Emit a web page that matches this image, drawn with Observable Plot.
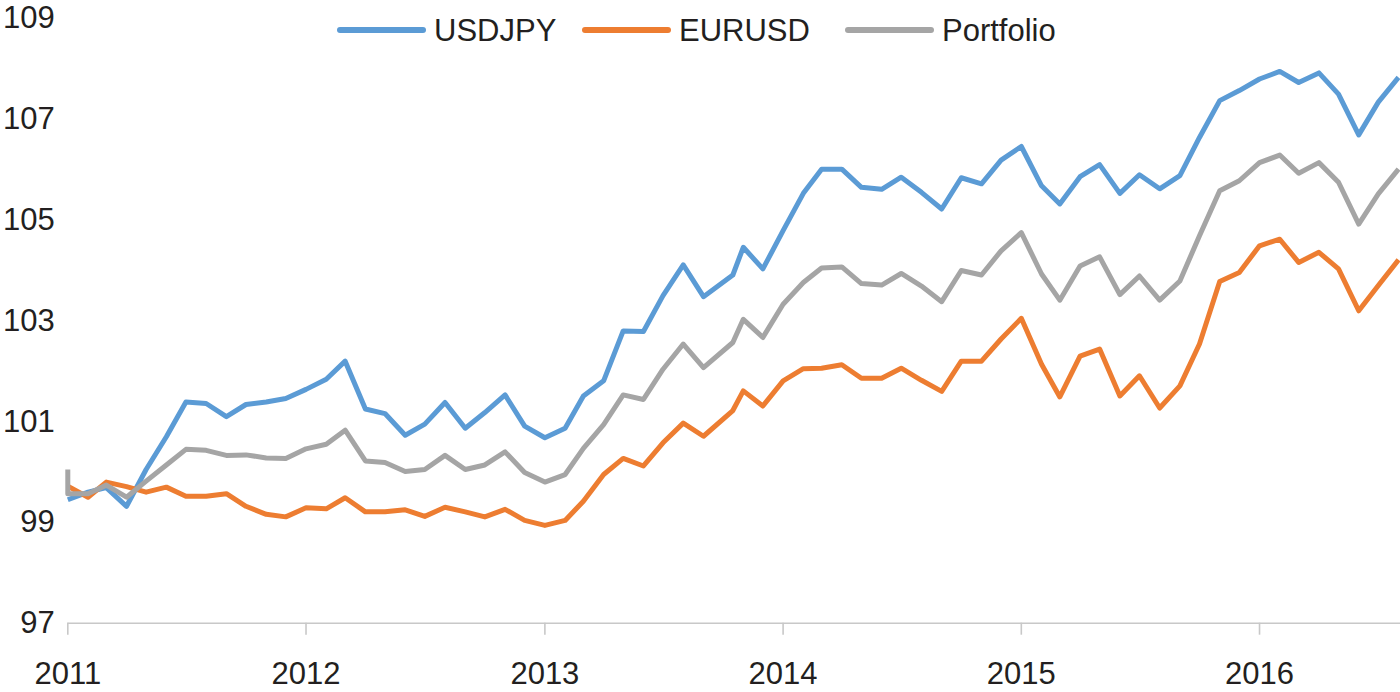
<!DOCTYPE html>
<html>
<head>
<meta charset="utf-8">
<script src="https://cdn.jsdelivr.net/npm/d3@7"></script>
<script src="https://cdn.jsdelivr.net/npm/@observablehq/plot@0.6"></script>
<style>
  body { margin: 0; background: #fff; font-family: "Liberation Sans", Arial, Helvetica, sans-serif; }
  #wrap { position: relative; width: 1400px; height: 692px; overflow: hidden; }
  #wrap svg { position: absolute; left: 0; top: 0; }
  .sw { position: absolute; height: 6px; border-radius: 3px; }
  .lt { position: absolute; font-size: 31px; line-height: 31px; color: #231f20; white-space: nowrap; }
</style>
</head>
<body>
<div id="wrap"></div>
<script>
// ---- Data ----
const dates = [
  "2011-01-01","2011-02-01","2011-03-01","2011-04-01","2011-05-01","2011-06-01","2011-07-01","2011-08-01","2011-09-01","2011-10-01","2011-11-01","2011-12-01",
  "2012-01-01","2012-02-01","2012-03-01","2012-04-01","2012-05-01","2012-06-01","2012-07-01","2012-08-01","2012-09-01","2012-10-01","2012-11-01","2012-12-01",
  "2013-01-01","2013-02-01","2013-03-01","2013-04-01","2013-05-01","2013-06-01","2013-07-01","2013-08-01","2013-09-01","2013-10-16","2013-11-01","2013-12-01",
  "2014-01-01","2014-02-01","2014-03-01","2014-04-01","2014-05-01","2014-06-01","2014-07-01","2014-08-01","2014-09-01","2014-10-01","2014-11-01","2014-12-01",
  "2015-01-01","2015-02-01","2015-03-01","2015-04-01","2015-05-01","2015-06-01","2015-07-01","2015-08-01","2015-09-01","2015-10-01","2015-11-01","2015-12-01",
  "2016-01-01","2016-02-01","2016-03-01","2016-04-01","2016-05-01","2016-06-01","2016-07-01","2016-08-01"
];
const usdjpy = [
  99.45, 99.60, 99.69, 99.32, 100.05, 100.70, 101.39, 101.36, 101.10, 101.34, 101.39, 101.46,
  101.64, 101.84, 102.20, 101.25, 101.16, 100.73, 100.95, 101.38, 100.87, 101.18, 101.53, 100.91,
  100.68, 100.87, 101.51, 101.81, 102.80, 102.79, 103.50, 104.11, 103.48, 103.91, 104.46, 104.03,
  104.79, 105.53, 106.01, 106.01, 105.65, 105.61, 105.85, 105.55, 105.22, 105.84, 105.72, 106.19,
  106.46, 105.68, 105.32, 105.86, 106.10, 105.53, 105.90, 105.62, 105.88, 106.64, 107.37, 107.57,
  107.80, 107.95, 107.73, 107.92, 107.50, 106.69, 107.34, 107.83
];
const eurusd = [
  99.72, 99.50, 99.80, 99.71, 99.60, 99.70, 99.52, 99.52, 99.57, 99.32, 99.16, 99.11,
  99.29, 99.27, 99.49, 99.21, 99.21, 99.25, 99.12, 99.30, 99.21, 99.11, 99.26, 99.04,
  98.94, 99.04, 99.42, 99.95, 100.27, 100.12, 100.58, 100.97, 100.71, 101.22, 101.61, 101.31,
  101.81, 102.05, 102.06, 102.13, 101.86, 101.86, 102.06, 101.82, 101.60, 102.20, 102.20, 102.64,
  103.05, 102.14, 101.49, 102.30, 102.44, 101.51, 101.91, 101.27, 101.71, 102.54, 103.78, 103.96,
  104.49, 104.62, 104.16, 104.36, 104.03, 103.20, 103.70, 104.21
];
// Portfolio starts with an extra opening value (100) on the first date
const portfolioOpen = 100.05;
const portfolio = [
  99.57, 99.57, 99.74, 99.50, 99.82, 100.14, 100.45, 100.43, 100.33, 100.34, 100.28, 100.27,
  100.46, 100.55, 100.83, 100.22, 100.19, 100.01, 100.05, 100.33, 100.05, 100.14, 100.40, 99.99,
  99.80, 99.95, 100.47, 100.94, 101.53, 101.44, 102.04, 102.54, 102.07, 102.57, 103.03, 102.67,
  103.33, 103.76, 104.05, 104.07, 103.74, 103.71, 103.94, 103.69, 103.38, 104.00, 103.91, 104.39,
  104.75, 103.93, 103.41, 104.09, 104.27, 103.52, 103.89, 103.41, 103.79, 104.69, 105.58, 105.78,
  106.14, 106.29, 105.93, 106.14, 105.75, 104.92, 105.52, 106.01
];
const seriesNames = ["USDJPY", "EURUSD", "Portfolio"];
const seriesColors = ["#5b9bd5", "#ed7d31", "#a5a5a5"];
const yTicks = [97, 99, 101, 103, 105, 107, 109];
const xTicks = ["2011-01-01","2012-01-01","2013-01-01","2014-01-01","2015-01-01","2016-01-01"];

// ---- Build table ----
const rows = [];
dates.forEach((d, i) => rows.push({date: new Date(d), value: usdjpy[i], series: "USDJPY"}));
dates.forEach((d, i) => rows.push({date: new Date(d), value: eurusd[i], series: "EURUSD"}));
rows.push({date: new Date(dates[0]), value: portfolioOpen, series: "Portfolio"});
dates.forEach((d, i) => rows.push({date: new Date(d), value: portfolio[i], series: "Portfolio"}));

const font = '"Liberation Sans", Arial, Helvetica, sans-serif';
const chart = Plot.plot({
  width: 1400,
  height: 692,
  marginLeft: 67.3,
  marginRight: 0,
  marginTop: 18,
  marginBottom: 69.3,
  style: {fontFamily: font, fontSize: "31px", color: "#231f20", background: "#fff", overflow: "visible"},
  x: {type: "utc", domain: [new Date("2011-01-01"), new Date("2016-08-04")]},
  y: {domain: [97, 109]},
  color: {domain: seriesNames, range: seriesColors},
  marks: [
    Plot.ruleY([97], {stroke: "#c8c8c8", strokeWidth: 1.6}),
    Plot.axisY({ticks: yTicks, tickSize: 0, tickPadding: 13, fontSize: 31, fill: "#231f20", label: null}),
    Plot.axisX({ticks: xTicks.map(d => new Date(d)), tickFormat: "%Y", tickSize: 12, tickPadding: 27,
      stroke: "#c8c8c8", strokeWidth: 1.6, fontSize: 31, fill: "#231f20", label: null}),
    Plot.lineY(rows, {x: "date", y: "value", z: "series", stroke: "series", strokeWidth: 5,
      strokeLinejoin: "round", strokeLinecap: "butt"})
  ]
});
const wrap = document.getElementById("wrap");
wrap.appendChild(chart);

// ---- Legend (HTML, overlaid at the top) ----
const swLeft = [337, 582, 845];
const txLeft = [434, 679, 942];
seriesNames.forEach((name, i) => {
  const sw = document.createElement("div");
  sw.className = "sw";
  sw.style.left = swLeft[i] + "px";
  sw.style.top = "27px";
  sw.style.width = "89px";
  sw.style.background = seriesColors[i];
  wrap.appendChild(sw);
  const t = document.createElement("div");
  t.className = "lt";
  t.style.left = txLeft[i] + "px";
  t.style.top = "15px";
  t.textContent = name;
  wrap.appendChild(t);
});
</script>
</body>
</html>
